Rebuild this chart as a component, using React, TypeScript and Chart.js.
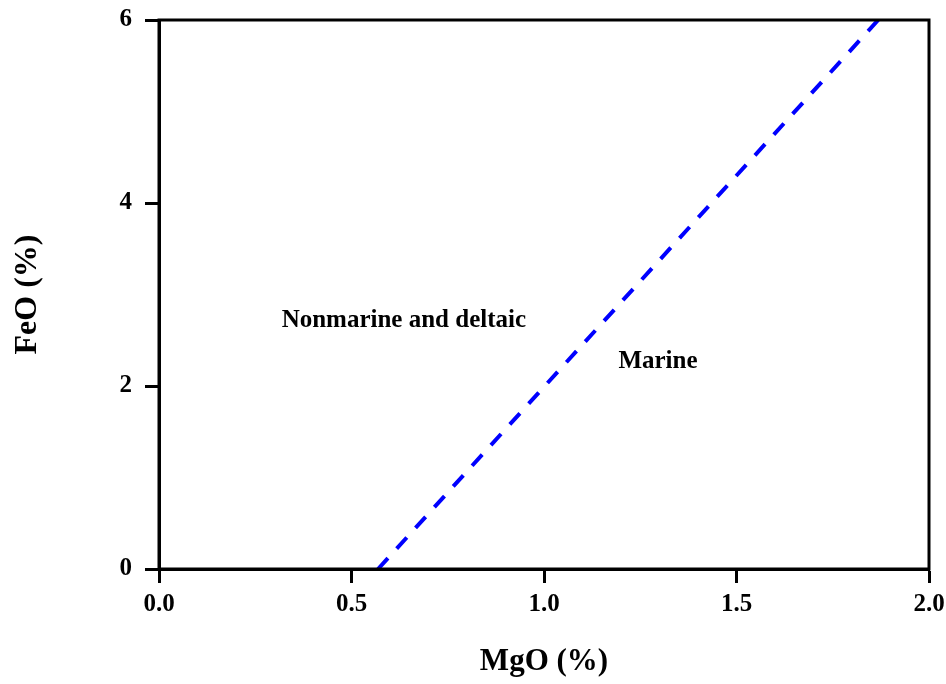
import React, { useEffect, useRef } from "react";
import { Chart, registerables } from "chart.js";

Chart.register(...registerables);

const xTicks = [0, 0.5, 1.0, 1.5, 2.0];
const yTicks = [0, 2, 4, 6];
const boundaryX = [1.868, 0.569];
const boundaryY = [6, 0];
const regionLabels = ["Nonmarine and deltaic", "Marine"];
const regionX = [0.636, 1.296];
const regionY = [2.72, 2.27];

const FONT = "'Liberation Serif', 'Times New Roman', serif";

const frameAndLabels = {
  id: "frameAndLabels",
  afterDatasetsDraw(chart: any) {
    const { ctx, chartArea, scales } = chart;
    ctx.save();
    ctx.fillStyle = "#000";
    ctx.font = `bold 25px ${FONT}`;
    ctx.textAlign = "center";
    ctx.textBaseline = "middle";
    regionLabels.forEach((t, i) => {
      ctx.fillText(t, scales.x.getPixelForValue(regionX[i]), scales.y.getPixelForValue(regionY[i]));
    });
    ctx.strokeStyle = "#000";
    ctx.lineWidth = 3;
    ctx.strokeRect(chartArea.left, chartArea.top, chartArea.right - chartArea.left, chartArea.bottom - chartArea.top);
    ctx.restore();
  },
};

export default function App() {
  const ref = useRef<HTMLCanvasElement>(null);
  useEffect(() => {
    if (!ref.current) return;
    const chart = new Chart(ref.current, {
      type: "line",
      data: {
        datasets: [
          {
            data: boundaryX.map((x, i) => ({ x, y: boundaryY[i] })),
            borderColor: "#0000ff",
            borderWidth: 4,
            borderDash: [15, 13],
            pointRadius: 0,
            fill: false,
            tension: 0,
          },
        ],
      },
      options: {
        animation: false,
        responsive: false,
        maintainAspectRatio: false,
        layout: { padding: { left: 0, top: 20, right: 17, bottom: 0 } },
        plugins: { legend: { display: false }, tooltip: { enabled: false } },
        scales: {
          x: {
            type: "linear",
            min: 0,
            max: 2,
            afterBuildTicks: (s: any) => {
              s.ticks = xTicks.map((v) => ({ value: v }));
            },
            afterFit: (s: any) => {
              s.height = 115;
              s.paddingLeft = 0;
              s.paddingRight = 0;
            },
            ticks: {
              color: "#000",
              font: { family: FONT, size: 25, weight: "bold" },
              padding: 7,
              callback: (v: any) => Number(v).toFixed(1),
            },
            grid: { drawOnChartArea: false, drawTicks: true, tickLength: 14, tickWidth: 3, tickColor: "#000" },
            border: { display: true, width: 3, color: "#000" },
            title: {
              display: true,
              text: "MgO (%)",
              color: "#000",
              font: { family: FONT, size: 31, weight: "bold" },
              padding: { top: 0, bottom: 3 },
            },
          },
          y: {
            type: "linear",
            min: 0,
            max: 6,
            afterBuildTicks: (s: any) => {
              s.ticks = yTicks.map((v) => ({ value: v }));
            },
            afterFit: (s: any) => {
              s.width = 159;
              s.paddingTop = 0;
              s.paddingBottom = 0;
            },
            ticks: {
              color: "#000",
              font: { family: FONT, size: 25, weight: "bold" },
              padding: 13,
            },
            grid: { drawOnChartArea: false, drawTicks: true, tickLength: 14, tickWidth: 3, tickColor: "#000" },
            border: { display: true, width: 3, color: "#000" },
            title: {
              display: true,
              text: "FeO (%)",
              color: "#000",
              font: { family: FONT, size: 32, weight: "bold" },
              padding: { top: 9, bottom: 0 },
            },
          },
        },
      },
      plugins: [frameAndLabels],
    });
    return () => chart.destroy();
  }, []);
  return (
    <div style={{ position: "fixed", left: 0, top: 0, width: 946, height: 684, background: "#fff" }}>
      <canvas ref={ref} width={946} height={684} style={{ display: "block" }} />
    </div>
  );
}
